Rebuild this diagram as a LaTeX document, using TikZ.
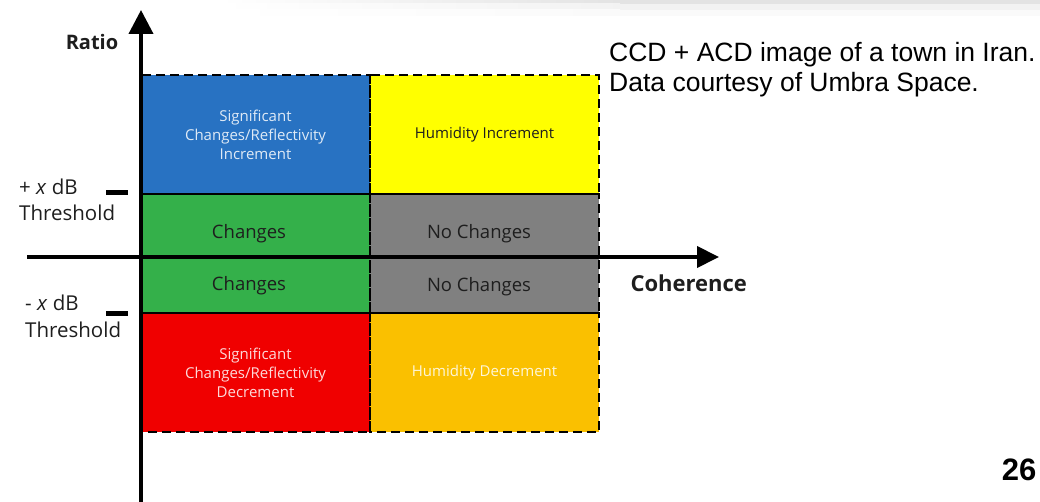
\documentclass[tikz,border=0pt]{standalone}
\usepackage{fontspec}
\setmainfont{Open Sans}
\newfontfamily\arialf{Liberation Sans}
\usetikzlibrary{arrows.meta}
\definecolor{blueC}{HTML}{2872C2}
\definecolor{yellowC}{HTML}{FFFF00}
\definecolor{greenC}{HTML}{34B04A}
\definecolor{grayC}{HTML}{808080}
\definecolor{redC}{HTML}{F00000}
\definecolor{orangeC}{HTML}{FAC000}
\definecolor{darkT}{HTML}{1E1E1E}
\tikzset{
  cell/.style={rectangle, inner sep=0pt, outer sep=0pt, align=center, minimum width=229pt},
  smalltxt/.style={font=\fontsize{15}{19}\selectfont},
  midtxt/.style={font=\fontsize{18.5}{22}\selectfont, text=darkT},
  dashline/.style={line width=2.5pt, dash pattern=on 9pt off 5pt},
  axisline/.style={line width=4pt},
  tick/.style={line width=5pt},
  lbl/.style={font=\fontsize{20.5}{24}\selectfont, text=darkT, inner sep=0pt},
}
\begin{document}
\begin{tikzpicture}[x=1pt,y=-1pt]
\useasboundingbox (0,0) rectangle (1040,502);
% top gradient band
\shade[left color=white, right color=black!11] (220,0) rectangle (620,4);
\fill[black!11] (620,0) rectangle (1040,4);
\shade[left color=white, right color=black!5] (220,4) rectangle (620,10);
\fill[black!5] (620,4) rectangle (1040,10);
\shade[left color=white, right color=black!2] (220,10) rectangle (620,16);
\fill[black!2] (620,10) rectangle (1040,16);

% cells
\node[cell, fill=blueC, minimum height=119pt, smalltxt, text=white!85!blueC] (sigI) at (255.5,134.5) {Significant\\Changes/Reflectivity\\Increment};
\node[cell, fill=yellowC, minimum height=119pt, smalltxt, text=darkT] (humI) at (484.5,134.5) {Humidity Increment};
\node[cell, fill=greenC, minimum height=63pt] (chU) at (255.5,225.5) {};
\node[cell, fill=grayC, minimum height=63pt] (ncU) at (484.5,225.5) {};
\node[cell, fill=greenC, minimum height=56pt] (chL) at (255.5,285) {};
\node[cell, fill=grayC, minimum height=56pt] (ncL) at (484.5,285) {};
\node[cell, fill=redC, minimum height=119pt, smalltxt, text=white!85!redC] (sigD) at (255.5,372.5) {Significant\\Changes/Reflectivity\\Decrement};
\node[cell, fill=orangeC, minimum height=119pt, smalltxt, text=white!85!orangeC] (humD) at (484.5,372.5) {Humidity Decrement};

% middle labels
\node[midtxt] (tChU) at (249,234) {Changes};
\node[midtxt] (tNcU) at (479,234) {No Changes};
\node[midtxt] (tChL) at (249,285.5) {Changes};
\node[midtxt] (tNcL) at (479,286.5) {No Changes};

% dashed borders
\draw[dashline] (sigI.north west) rectangle (sigI.south east);
\draw[dashline] (humI.north west) rectangle (humI.south east);
\draw[dashline] (chU.north west) rectangle (chL.south east);
\draw[dashline] (ncU.north west) rectangle (ncL.south east);
\draw[dashline] (sigD.north west) rectangle (sigD.south east);
\draw[dashline] (humD.north west) rectangle (humD.south east);

% axes
\coordinate (yb) at (141,502);
\coordinate (yt) at (141,10);
\coordinate (xl) at (27,257);
\coordinate (xr) at (719,257);
\draw[axisline, -{Triangle[width=24pt,length=24pt]}] (yb) -- (yt);
\draw[axisline, -{Triangle[width=21pt,length=22pt]}] (xl) -- (xr);

% threshold ticks
\coordinate (t1a) at (106,193); \coordinate (t1b) at (128,193);
\coordinate (t2a) at (106,313); \coordinate (t2b) at (128,313);
\draw[tick] (t1a) -- (t1b);
\draw[tick] (t2a) -- (t2b);

% axis labels
\node[font=\bfseries\fontsize{20}{22}\selectfont, text=darkT] (ratio) at (92,42) {Ratio};
\node[font=\bfseries\fontsize{22}{24}\selectfont, text=darkT, anchor=west] (coh) at (627,283) {Coherence};

% threshold labels
\node[lbl, anchor=west] (p1) at (19,187) {+ \textit{x} dB};
\node[lbl, anchor=west] (p2) at (19,213) {Threshold};
\node[lbl, anchor=west] (m1) at (25,303) {- \textit{x} dB};
\node[lbl, anchor=west] (m2) at (25,330) {Threshold};

% caption
\node[font=\arialf\fontsize{26.5}{30}\selectfont, anchor=north west, align=left, inner sep=0pt] (cap) at (609,42) {CCD + ACD image of a town in Iran.\\Data courtesy of Umbra Space.};
\node[font=\arialf\bfseries\fontsize{31}{34}\selectfont, inner sep=0pt] (pg) at (1019,470) {26};
\end{tikzpicture}
\end{document}
